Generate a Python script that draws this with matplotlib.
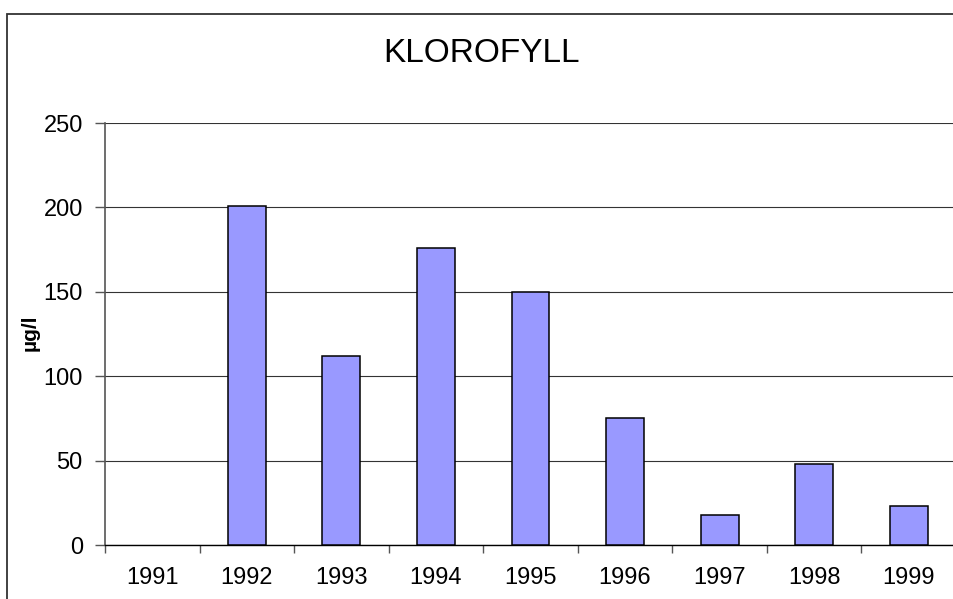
import matplotlib.pyplot as plt
import numpy as np
from matplotlib.patches import Rectangle

plt.rcParams['font.family'] = ['Liberation Sans', 'DejaVu Sans']

# Data
years = ['1991', '1992', '1993', '1994', '1995', '1996', '1997', '1998', '1999']
values = [0, 201, 112, 176, 150, 75, 18, 48, 23]
y_ticks = [0, 50, 100, 150, 200, 250]

fig = plt.figure(figsize=(9.54, 5.99), dpi=100)

# outer chart border (only left and top visible in the crop)
fig.patches.append(Rectangle((7 / 954, -0.5), 2.0, 1.5 - 14.5 / 599,
                             transform=fig.transFigure, fill=False,
                             edgecolor='#333333', linewidth=1.3))

ax = fig.add_axes([105 / 954, 54 / 599, 851 / 954, 422 / 599])

x = np.arange(len(years))
edges = ['none' if v == 0 else 'black' for v in values]
ax.bar(x, values, width=0.4, color='#9999FF', edgecolor=edges, linewidth=1.1, zorder=3)

ax.set_xlim(-0.5, len(years) - 0.5)
ax.set_ylim(0, 250)
ax.set_yticks(y_ticks)
ax.set_yticklabels([str(t) for t in y_ticks], fontsize=17)

# category labels centered, tick marks at category boundaries
ax.set_xticks(x)
ax.set_xticklabels(years, fontsize=17)
ax.tick_params(axis='x', which='major', length=0, pad=16)
ax.set_xticks(np.arange(-0.5, len(years) - 0.5, 1.0), minor=True)
ax.tick_params(axis='x', which='minor', length=6, width=1, color='#555555', direction='out')
ax.tick_params(axis='y', length=7, width=1, color='#555555', direction='out', pad=9)

ax.yaxis.grid(True, color='#333333', linewidth=0.8, zorder=0)
ax.set_axisbelow(True)

for side in ['top', 'right']:
    ax.spines[side].set_visible(False)
ax.spines['left'].set_color('#555555')
ax.spines['left'].set_linewidth(1.2)
ax.spines['bottom'].set_color('black')
ax.spines['bottom'].set_linewidth(1.0)

ax.set_ylabel('µg/l', fontsize=15, fontweight='bold', va='center')
ax.yaxis.set_label_coords(-0.088, 0.502)

fig.text(482 / 954, 1 - 53 / 599, 'KLOROFYLL', fontsize=24, ha='center', va='center')

fig.savefig('out.png', dpi=100)
